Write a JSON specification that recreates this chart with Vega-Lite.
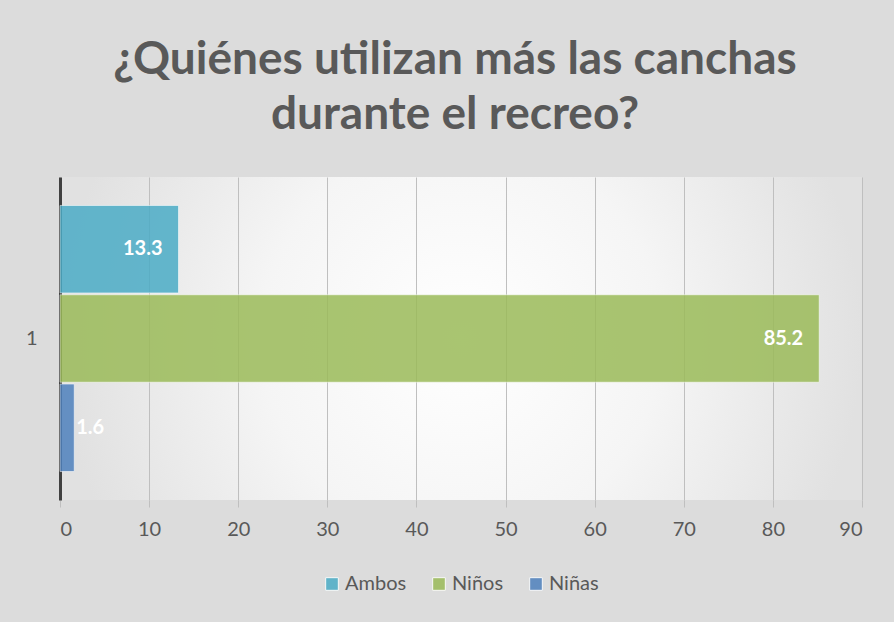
{
  "$schema": "https://vega.github.io/schema/vega-lite/v6.json",
  "width": 802,
  "height": 323,
  "autosize": {"type": "none"},
  "padding": {"left": 60, "top": 177, "right": 32, "bottom": 122},
  "background": "#dcdcdc",
  "config": {
    "font": "Lato",
    "view": {"stroke": null, "fill": {"gradient": "radial", "stops": [{"offset": 0, "color": "#ffffff"}, {"offset": 0.5, "color": "#f5f5f5"}, {"offset": 1, "color": "#e1e1e1"}]}}
  },
  "title": {
    "text": ["¿Quiénes utilizan más las canchas", "durante el recreo?"],
    "fontSize": 46,
    "fontWeight": "bold",
    "color": "#595959",
    "anchor": "middle",
    "frame": "group",
    "lineHeight": 55,
    "offset": 38,
    "dx": -6
  },
  "data": {
    "values": [
      {"cat": "1", "serie": "Ambos", "valor": 13.3},
      {"cat": "1", "serie": "Niños", "valor": 85.2},
      {"cat": "1", "serie": "Niñas", "valor": 1.6}
    ]
  },
  "encoding": {
    "y": {
      "field": "cat",
      "type": "nominal",
      "title": null,
      "scale": {"paddingInner": 0, "paddingOuter": 0.107},
      "axis": {
        "labelAngle": 0,
        "labelFontSize": 20,
        "labelColor": "#595959",
        "labelPadding": 23,
        "ticks": false,
        "domainColor": "#404040",
        "domainWidth": 3,
        "grid": false
      }
    },
    "yOffset": {
      "field": "serie",
      "type": "nominal",
      "sort": ["Ambos", "Niños", "Niñas"],
      "scale": {"paddingInner": 0.02, "paddingOuter": 0}
    },
    "x": {
      "field": "valor",
      "type": "quantitative",
      "title": null,
      "scale": {"domain": [0, 90], "nice": false},
      "axis": {
        "values": [0, 10, 20, 30, 40, 50, 60, 70, 80, 90],
        "labelFontSize": 20,
        "labelColor": "#595959",
        "labelPadding": 12,
        "tickSize": 7,
        "tickColor": "#bfbfbf",
        "domain": false,
        "gridColor": "#bfbfbf",
        "gridWidth": 1
      }
    }
  },
  "layer": [
    {
      "mark": {"type": "bar", "opacity": 0.85, "stroke": "#ffffff", "strokeWidth": 1, "strokeOpacity": 0.6},
      "encoding": {
        "color": {
          "field": "serie",
          "type": "nominal",
          "sort": ["Ambos", "Niños", "Niñas"],
          "scale": {"domain": ["Ambos", "Niños", "Niñas"], "range": ["#4bacc6", "#9bbb59", "#4f81bd"]},
          "legend": {
            "title": null,
            "orient": "none",
            "legendX": 262,
            "legendY": 397,
            "direction": "horizontal",
            "symbolType": "square",
            "symbolSize": 160,
            "symbolOpacity": 0.85,
            "symbolStrokeColor": "#ffffff",
            "symbolStrokeWidth": 1,
            "labelFontSize": 20,
            "labelColor": "#595959",
            "columnPadding": 22,
            "labelOffset": 3
          }
        }
      }
    },
    {
      "transform": [{"filter": "datum.valor > 5"}],
      "mark": {"type": "text", "align": "right", "dx": -16, "color": "#ffffff", "fontWeight": "bold", "fontSize": 20},
      "encoding": {"text": {"field": "valor", "type": "quantitative", "format": ".1f"}}
    },
    {
      "transform": [{"filter": "datum.valor <= 5"}],
      "mark": {"type": "text", "align": "left", "dx": 2, "color": "#ffffff", "fontWeight": "bold", "fontSize": 20},
      "encoding": {"text": {"field": "valor", "type": "quantitative", "format": ".1f"}}
    }
  ]
}
